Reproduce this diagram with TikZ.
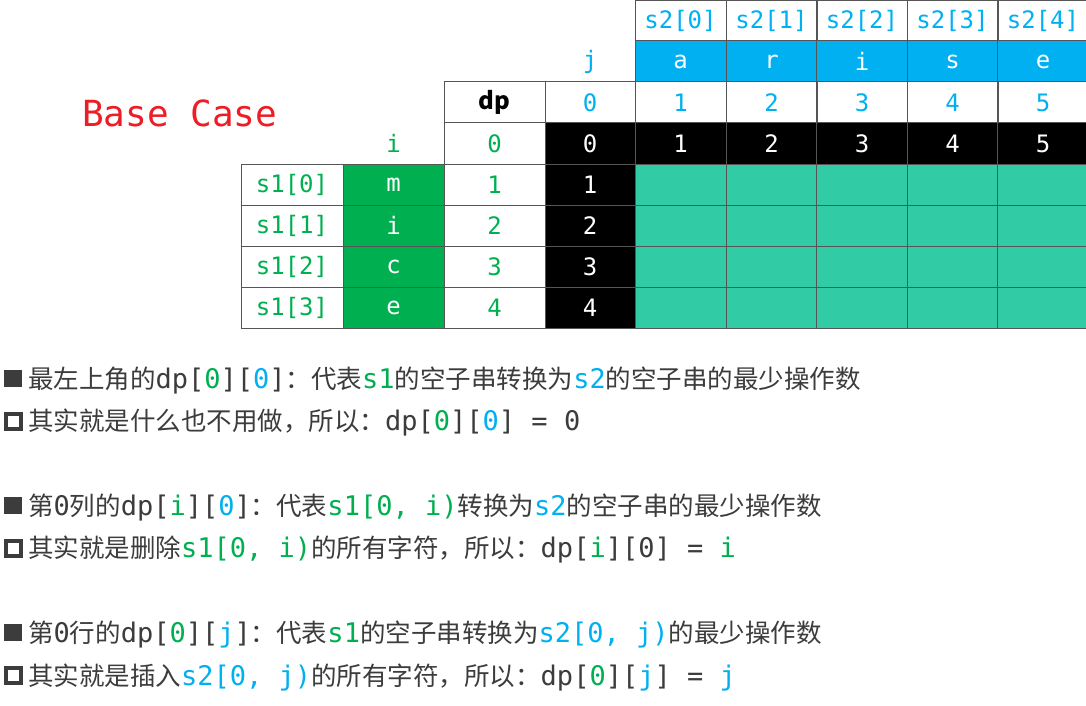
\documentclass[tikz,border=0pt]{standalone}
\usepackage{fontspec}
\setmainfont{Noto Sans CJK SC}
\newfontfamily\mono{DejaVu Sans Mono}
\definecolor{gridc}{HTML}{555555}
\definecolor{tgreen}{HTML}{00B050}
\definecolor{tblue}{HTML}{00B0F0}
\definecolor{tteal}{HTML}{31CCA6}
\definecolor{tgray}{HTML}{3C3C3C}
\definecolor{tred}{HTML}{EE1C25}
\newcommand\G[1]{\textcolor{tgreen}{#1}}
\newcommand\B[1]{\textcolor{tblue}{#1}}
\newcommand\M[1]{{\mono\fontsize{27}{30}\selectfont #1}}
\begin{document}
\begin{tikzpicture}[x=1pt,y=-1pt,
  tabfont/.style={font=\mono\fontsize{24}{28}\selectfont},
  cellw/.style={tabfont, draw=gridc, line width=1pt, inner sep=0pt, minimum height=41pt, minimum width=91pt},
  cellwide/.style={cellw, minimum width=101pt},
  cellblue/.style={cellw, fill=tblue, text=white},
  cellblack/.style={cellw, fill=black, text=white},
  cellteal/.style={cellw, fill=tteal},
  cellgreen/.style={cellwide, fill=tgreen, text=white},
  freelabel/.style={tabfont, inner sep=0pt},
  textline/.style={anchor=base west, inner sep=0pt, text=tgray, font=\fontsize{25.5}{30}\selectfont},
  bulletfull/.style={rectangle, fill=tgray, minimum width=18pt, minimum height=17pt, inner sep=0pt},
  bullethollow/.style={rectangle, draw=tgray, line width=4pt, minimum width=15pt, minimum height=15pt, inner sep=0pt},
]
\useasboundingbox (0,0) rectangle (1086,706);
\fill[white] (0,0) rectangle (1086,706);

% Base Case
\node[inner sep=0pt, anchor=base west, text=tred, font=\mono\fontsize{36}{40}\selectfont] (title) at (82,127) {Base Case};

% s2 columns
\foreach \x/\k/\ch/\num in {680.5/0/a/1, 771.5/1/r/2, 862/2/i/3, 952.5/3/s/4, 1043/4/e/5}{
  \node[cellw, text=tblue] (s2\k) at (\x,21) {s2[\k]};
  \node[cellblue] (ch\k) at (\x,61.5) {\ch};
  \node[cellw, text=tblue] (jn\num) at (\x,102.5) {\num};
  \node[cellblack] (dpz\num) at (\x,143.5) {\num};
  \foreach \r/\y in {1/184.5, 2/225.5, 3/266.5, 4/307.5}{
    \node[cellteal] (dp\r x\num) at (\x,\y) {};
  }
}

% j column
\node[freelabel, text=tblue] (jlab) at (590,61.5) {j};
\node[cellw, minimum width=90pt, text=tblue] (jn0) at (590,102.5) {0};
\node[cellwide, font=\bfseries\fontsize{24}{28}\selectfont, text=black] (dplab) at (494.5,102.5) {dp};

% i row
\node[freelabel, text=tgreen] (ilab) at (393.5,143.5) {i};
\node[cellwide, text=tgreen] (in0) at (494.5,143.5) {0};
\node[cellblack, minimum width=90pt] (dpz0) at (590,143.5) {0};

% s1 rows
\foreach \k/\ch/\num/\y in {0/m/1/184.5, 1/i/2/225.5, 2/c/3/266.5, 3/e/4/307.5}{
  \node[cellw, minimum width=102pt, text=tgreen] (s1\k) at (292,\y) {s1[\k]};
  \node[cellgreen] (ci\k) at (393.5,\y) {\ch};
  \node[cellwide, text=tgreen] (in\num) at (494.5,\y) {\num};
  \node[cellblack, minimum width=90pt] (dpc\num) at (590,\y) {\num};
}

% bullets
\node[bulletfull] (b1) at (13,378.5) {};
\node[bullethollow] (b2) at (13.5,421) {};
\node[bulletfull] (b3) at (13,505.5) {};
\node[bullethollow] (b4) at (13.5,548) {};
\node[bulletfull] (b5) at (13,632.5) {};
\node[bullethollow] (b6) at (13.5,675) {};

% text lines
\node[textline] (t1) at (28,388) {最左上角的\M{dp[\G{0}][\B{0}]}：代表\M{\G{s1}}的空子串转换为\M{\B{s2}}的空子串的最少操作数};
\node[textline] (t2) at (28,430) {其实就是什么也不用做，所以：\M{dp[\G{0}][\B{0}] = 0}};
\node[textline] (t3) at (28,515) {第\M{0}列的\M{dp[\G{i}][\B{0}]}：代表\M{\G{s1[0, i)}}转换为\M{\B{s2}}的空子串的最少操作数};
\node[textline] (t4) at (28,557) {其实就是删除\M{\G{s1[0, i)}}的所有字符，所以：\M{dp[\G{i}][0] = \G{i}}};
\node[textline] (t5) at (28,642) {第\M{0}行的\M{dp[\G{0}][\B{j}]}：代表\M{\G{s1}}的空子串转换为\M{\B{s2[0, j)}}的最少操作数};
\node[textline] (t6) at (28,685) {其实就是插入\M{\B{s2[0, j)}}的所有字符，所以：\M{dp[\G{0}][\B{j}] = \B{j}}};
\end{tikzpicture}
\end{document}
